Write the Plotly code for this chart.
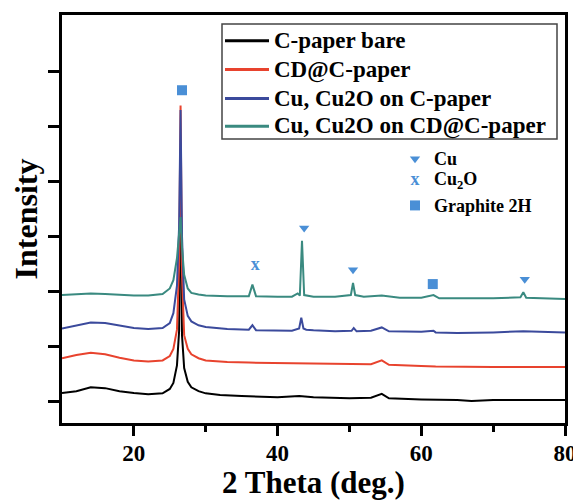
import plotly.graph_objects as go

# ---------------- data ----------------
bare_x = [10, 12, 14, 16, 18, 20, 22, 24, 25, 25.5, 26, 26.3, 26.5, 26.7, 27, 27.5, 28, 29, 30, 32, 35, 40, 43, 45, 50, 53, 54.5, 55.5, 60, 65, 67, 70, 75, 80]
bare_y = [0.145, 0.18, 0.25, 0.235, 0.18, 0.145, 0.125, 0.14, 0.22, 0.33, 0.65, 1.28, 4.6, 1.2, 0.6, 0.35, 0.25, 0.18, 0.14, 0.11, 0.09, 0.07, 0.09, 0.07, 0.05, 0.06, 0.13, 0.05, 0.03, 0.02, 0.0, 0.02, 0.02, 0.02]

cd_x = [10, 12, 14, 16, 18, 20, 22, 24, 25, 25.5, 26, 26.3, 26.5, 26.7, 27, 27.5, 28, 29, 30, 33, 36, 40, 45, 50, 53, 54.5, 55.5, 60, 62, 70, 80]
cd_y = [0.78, 0.84, 0.88, 0.85, 0.79, 0.74, 0.72, 0.74, 0.82, 0.95, 1.3, 2.5, 5.38, 2.3, 1.2, 0.95, 0.85, 0.78, 0.74, 0.71, 0.70, 0.69, 0.68, 0.67, 0.67, 0.74, 0.66, 0.64, 0.63, 0.62, 0.62]

cu_x = [10, 12, 14, 16, 18, 20, 22, 24, 25, 25.5, 26, 26.3, 26.5, 26.7, 27, 27.5, 28, 29, 30, 33, 36, 36.5, 37, 40, 42, 43, 43.3, 43.6, 44, 45, 48, 50.3, 50.6, 51, 53, 54.5, 55.5, 60, 61.7, 62, 65, 70, 74.2, 80]
cu_y = [1.32, 1.38, 1.43, 1.42, 1.37, 1.33, 1.31, 1.33, 1.42, 1.6, 2.1, 3.2, 5.3, 3.0, 1.85, 1.55, 1.45, 1.38, 1.35, 1.31, 1.30, 1.38, 1.29, 1.28, 1.28, 1.32, 1.52, 1.32, 1.30, 1.29, 1.27, 1.28, 1.33, 1.27, 1.28, 1.34, 1.27, 1.26, 1.28, 1.25, 1.24, 1.25, 1.27, 1.25]

cucd_x = [10, 12, 14, 16, 18, 20, 22, 24, 25, 25.5, 26, 26.3, 26.5, 26.7, 27, 27.5, 28, 29, 30, 33, 36, 36.5, 37, 40, 42, 42.8, 43.1, 43.4, 43.7, 45, 48, 50.2, 50.5, 50.8, 52, 54.5, 57, 60, 61.7, 62.5, 70, 73.8, 74.2, 74.6, 80]
cucd_y = [1.93, 1.94, 1.96, 1.95, 1.93, 1.92, 1.92, 1.95, 2.05, 2.2, 2.6, 3.0, 3.35, 2.8, 2.3, 2.05, 1.97, 1.94, 1.92, 1.91, 1.91, 2.12, 1.91, 1.90, 1.90, 1.96, 1.92, 2.92, 1.93, 1.90, 1.90, 1.93, 2.15, 1.93, 1.90, 1.92, 1.88, 1.88, 1.93, 1.87, 1.87, 1.89, 1.98, 1.88, 1.86]

series_names = ["C-paper bare", "CD@C-paper", "Cu, Cu2O on C-paper", "Cu, Cu2O on CD@C-paper"]

# phase markers
cu_mark_x = [43.7, 50.5, 74.4]
cu_mark_y = [3.15, 2.39, 2.22]
cu2o_mark_x = [36.9]
cu2o_mark_y = [2.46]
gr_mark_x = [26.7, 61.6]
gr_mark_y = [5.66, 2.13]

x_ticks = [20, 40, 60, 80]
x_minor_ticks = [30, 50, 70]
y_ticks = [0, 1, 2, 3, 4, 5, 6]

# ---------------- styling ----------------
colors = ["#000000", "#e8432e", "#3b4a9c", "#3a8a80"]
mark_color = "#4a8fd6"
FONT = "Liberation Serif"

OFF = 8  # default page body margin
W, H = 581 - OFF, 500 - OFF
# plot-area edges in window pixels
L, R, T, B = 62, 565, 12, 423


def px(x):
    return (x - L) / (R - L)


def py(y):
    return (B - y) / (B - T)


fig = go.Figure()
for xs, ys, c, n in zip([bare_x, cd_x, cu_x, cucd_x], [bare_y, cd_y, cu_y, cucd_y], colors, series_names):
    fig.add_trace(go.Scatter(x=xs, y=ys, mode="lines", name=n,
                             line=dict(color=c, width=2), showlegend=False))

fig.add_trace(go.Scatter(x=cu_mark_x, y=cu_mark_y, mode="markers", name="Cu",
                         marker=dict(symbol="triangle-down", size=9, color=mark_color),
                         showlegend=False))
fig.add_trace(go.Scatter(x=cu2o_mark_x, y=cu2o_mark_y, mode="text", name="Cu2O", text=["x"],
                         textfont=dict(family=FONT, size=18, color=mark_color, weight="bold"),
                         showlegend=False))
fig.add_trace(go.Scatter(x=gr_mark_x, y=gr_mark_y, mode="markers", name="Graphite 2H",
                         marker=dict(symbol="square", size=10, color=mark_color),
                         showlegend=False))

shapes = []
annotations = []
# legend box for the four curves
shapes.append(dict(type="rect", xref="paper", yref="paper",
                   x0=px(222), x1=px(557), y0=py(137), y1=py(21),
                   line=dict(color="#444444", width=1.5), fillcolor="rgba(0,0,0,0)"))
row_y = [38, 67, 96, 124]
for c, n, yy in zip(colors, series_names, row_y):
    shapes.append(dict(type="line", xref="paper", yref="paper",
                       x0=px(225), x1=px(269), y0=py(yy), y1=py(yy),
                       line=dict(color=c, width=3)))
    annotations.append(dict(xref="paper", yref="paper", x=px(272), y=py(yy),
                            text=n, showarrow=False, xanchor="left", yanchor="middle",
                            font=dict(family=FONT, size=23, color="black", weight="bold")))

# phase marker key
key_y = [157, 179, 204]
key_x = 10 + (415 - L) / (R - L) * 70
fig.add_trace(go.Scatter(x=[key_x], y=[(401 - key_y[0]) / 55.3],
                         mode="markers", marker=dict(symbol="triangle-down", size=9, color=mark_color),
                         showlegend=False, hoverinfo="skip"))
fig.add_trace(go.Scatter(x=[key_x], y=[(401 - key_y[1]) / 55.3],
                         mode="text", text=["x"],
                         textfont=dict(family=FONT, size=18, color=mark_color, weight="bold"),
                         showlegend=False, hoverinfo="skip"))
fig.add_trace(go.Scatter(x=[key_x], y=[(401 - key_y[2]) / 55.3],
                         mode="markers", marker=dict(symbol="square", size=10, color=mark_color),
                         showlegend=False, hoverinfo="skip"))
for txt, yy in zip(["Cu", "Cu<sub>2</sub>O", "Graphite 2H"], key_y):
    annotations.append(dict(xref="paper", yref="paper", x=px(432), y=py(yy),
                            text=txt, showarrow=False, xanchor="left", yanchor="middle",
                            font=dict(family=FONT, size=18, color="black", weight="bold")))

fig.update_layout(
    width=W, height=H,
    margin=dict(l=L - OFF, r=581 - R, t=T - OFF, b=500 - B),
    paper_bgcolor="white", plot_bgcolor="white",
    showlegend=False,
    shapes=shapes, annotations=annotations,
    xaxis=dict(range=[10, 80], tickvals=x_ticks, ticks="outside", ticklen=10, tickwidth=3,
               tickcolor="black", showline=True, linewidth=3, linecolor="black", mirror=True,
               showgrid=False, zeroline=False, ticklabelstandoff=-3,
               minor=dict(tickvals=x_minor_ticks, ticks="outside", ticklen=6, tickwidth=3, tickcolor="black"),
               tickfont=dict(family=FONT, size=23, color="black", weight="bold"),
               title=dict(text="2 Theta (deg.)", standoff=3,
                          font=dict(family=FONT, size=31, color="black", weight="bold"))),
    yaxis=dict(range=[-0.4, 7.03], tickvals=y_ticks, showticklabels=False, ticks="outside",
               ticklen=11, tickwidth=3, tickcolor="black", showline=True, linewidth=3,
               linecolor="black", mirror=True, showgrid=False, zeroline=False,
               title=dict(text="Intensity", standoff=4,
                          font=dict(family=FONT, size=32, color="black", weight="bold"))),
)

fig.write_html("out.html")
